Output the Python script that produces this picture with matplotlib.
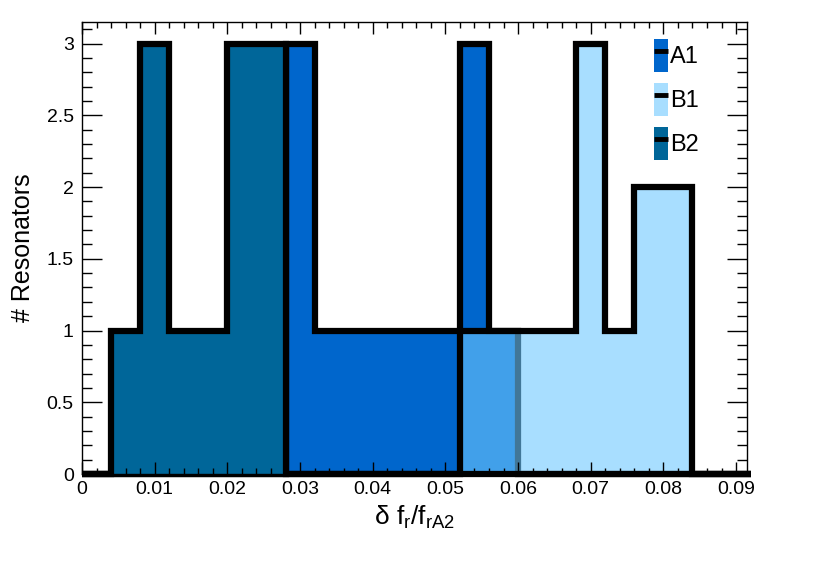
import numpy as np
import matplotlib
matplotlib.use("Agg")
from matplotlib import pyplot as plt
from matplotlib.patches import Patch
from matplotlib.lines import Line2D
from matplotlib.legend_handler import HandlerTuple
from matplotlib.ticker import MultipleLocator

plt.rcParams['font.family'] = ['Liberation Sans', 'DejaVu Sans']

# histogram binning (width 0.004)
edges = np.round(np.arange(0, 0.0921, 0.004), 4)

# counts per bin
a1 = [0, 0, 0, 0, 0, 0, 0, 3, 1, 1, 1, 1, 1, 3, 1, 0, 0, 0, 0, 0, 0, 0, 0]
b1 = [0, 0, 0, 0, 0, 0, 0, 0, 0, 0, 0, 0, 0, 1, 1, 1, 1, 3, 1, 2, 2, 0, 0]
b2 = [0, 1, 3, 1, 1, 3, 3, 0, 0, 0, 0, 0, 0, 0, 0, 0, 0, 0, 0, 0, 0, 0, 0]

names = ['A1', 'B1', 'B2']
colors = ['#0066cc', '#6ec8ff', '#006699']
alphas = [1.0, 0.6, 1.0]

fig = plt.figure(figsize=(8.3, 5.65), dpi=100)
ax = fig.add_axes([0.0988, 0.161, 0.8012, 0.8])

handles = []
for vals, c, al in zip([a1, b1, b2], colors, alphas):
    ax.stairs(vals, edges, fill=True, color=c, alpha=al, lw=0)
    ax.stairs(vals, edges, color='black', lw=4.5, baseline=0, clip_on=False)
    handles.append((Patch(facecolor=c, alpha=al, lw=0),
                    Line2D([], [], color='black', lw=3.5, solid_capstyle='butt')))

ax.set_xlim(0, 0.0915)
ax.set_ylim(0, 3.15)

ax.xaxis.set_minor_locator(MultipleLocator(0.002))
ax.yaxis.set_minor_locator(MultipleLocator(0.1))
ax.set_xticks(np.arange(0, 0.091, 0.01))
ax.set_xticklabels(['0', '0.01', '0.02', '0.03', '0.04', '0.05', '0.06', '0.07', '0.08', '0.09'])
ax.set_yticks(np.arange(0, 3.01, 0.5))
ax.set_yticklabels(['0', '0.5', '1', '1.5', '2', '2.5', '3'])

ax.tick_params(axis='x', which='major', direction='in', length=8.6, width=1,
               top=True, labelsize=14, pad=5)
ax.tick_params(axis='x', which='minor', direction='in', length=4.5, width=1, top=True)
ax.tick_params(axis='y', which='major', direction='in', length=14.4, width=1,
               right=True, labelsize=14, pad=6)
ax.tick_params(axis='y', which='minor', direction='in', length=7.2, width=1, right=True)
for s in ax.spines.values():
    s.set_linewidth(1)

ax.set_xlabel('δ f$_\\mathregular{r}$/f$_\\mathregular{rA2}$', fontsize=19, labelpad=4)
ax.set_ylabel('# Resonators', fontsize=18, labelpad=8)

ax.legend(handles, names, handler_map={tuple: HandlerTuple(ndivide=1, pad=0)},
          loc='upper left', bbox_to_anchor=(0.835, 1.0), frameon=False,
          fontsize=17, handlelength=0.6, handleheight=1.8, handletextpad=0.1,
          labelspacing=0.45, borderpad=0.2)

fig.savefig('out.png', dpi=100)
